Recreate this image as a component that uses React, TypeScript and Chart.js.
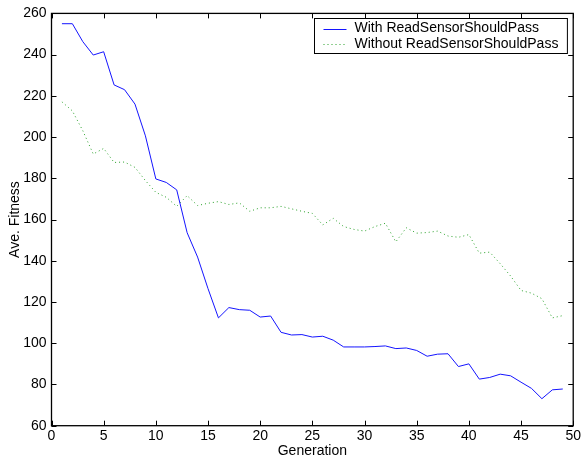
import React, { useEffect, useRef } from "react";
import { Chart, registerables } from "chart.js";

Chart.register(...registerables);

const generations = [
  1, 2, 3, 4, 5, 6, 7, 8, 9, 10, 11, 12, 13, 14, 15, 16, 17, 18, 19, 20, 21, 22, 23, 24, 25,
  26, 27, 28, 29, 30, 31, 32, 33, 34, 35, 36, 37, 38, 39, 40, 41, 42, 43, 44, 45, 46, 47, 48, 49,
];

const withPass = [
  255, 255, 246.3, 239.8, 241.4, 225.3, 223, 216, 200.6, 179.7, 178, 174.4, 153.6, 141.8, 126.5,
  112.3, 117.3, 116.3, 116, 112.7, 113.2, 105.3, 104, 104.2, 103, 103.4, 101.5, 98.2, 98.2, 98.2,
  98.4, 98.7, 97.4, 97.7, 96.5, 93.7, 94.7, 94.9, 88.7, 90, 82.6, 83.4, 85, 84.2, 81.1, 78.1,
  73.1, 77.4, 77.8,
];

const withoutPass = [
  217.1, 212.7, 203.1, 191.8, 194.5, 187.7, 187.9, 185.3, 178.9, 173.2, 170.8, 166.4, 171.6,
  166.8, 167.9, 168.7, 167.3, 168.1, 164, 165.7, 165.7, 166.4, 165.2, 164, 163, 157.4, 160.6,
  156.6, 155.2, 154.4, 156.6, 158.2, 149.2, 156, 153.4, 153.7, 154.4, 152, 151.4, 152.7, 143.7,
  144.2, 138.6, 132.6, 125.6, 124.3, 121.6, 112.3, 113.4,
];

const xTicks = [0, 5, 10, 15, 20, 25, 30, 35, 40, 45, 50];
const yTicks = [60, 80, 100, 120, 140, 160, 180, 200, 220, 240, 260];
const seriesLabels = ["With ReadSensorShouldPass", "Without ReadSensorShouldPass"];
const axisTitles = ["Generation", "Ave. Fitness"];

const FONT = "Liberation Sans, Arial, Helvetica, sans-serif";
const FS = 14;
const BLUE = "rgb(20,20,255)";
const GREEN = "rgb(40,160,40)";
const GREEN_DASH = [1, 3];

const framePlugin = {
  id: "frameAndLegend",
  afterDraw(chart: any) {
    const { ctx, chartArea } = chart;
    const { left, right, top, bottom } = chartArea;
    const xs = chart.scales.x;
    const ys = chart.scales.y;
    const tl = 5;
    ctx.save();
    ctx.strokeStyle = "#000";
    ctx.lineWidth = 1;
    ctx.setLineDash([]);
    ctx.beginPath();
    for (const v of xTicks) {
      const px = Math.round(xs.getPixelForValue(v)) + 0.5;
      ctx.moveTo(px, bottom);
      ctx.lineTo(px, bottom - tl);
      ctx.moveTo(px, top);
      ctx.lineTo(px, top + tl);
    }
    for (const v of yTicks) {
      const py = Math.round(ys.getPixelForValue(v)) + 0.5;
      ctx.moveTo(left, py);
      ctx.lineTo(left + tl, py);
      ctx.moveTo(right, py);
      ctx.lineTo(right - tl, py);
    }
    ctx.stroke();
    ctx.lineWidth = 1.3;
    ctx.strokeRect(left, top, right - left, bottom - top);

    // legend
    ctx.font = FS + "px " + FONT;
    const labels = chart.data.datasets.map((d: any) => d.label);
    const tw = Math.max(...labels.map((l: string) => ctx.measureText(l).width));
    const boxW = 40 + tw + 9;
    const boxH = 35;
    const bx = Math.round(right - 6 - boxW) + 0.5;
    const by = Math.round(top + 5) + 0.5;
    ctx.fillStyle = "#fff";
    ctx.fillRect(bx, by, boxW, boxH);
    ctx.lineWidth = 1;
    ctx.strokeStyle = "#000";
    ctx.strokeRect(bx, by, boxW, boxH);
    chart.data.datasets.forEach((d: any, i: number) => {
      const cy = by + 10 + i * 15.6;
      ctx.save();
      ctx.strokeStyle = d.borderColor;
      ctx.lineWidth = d.borderWidth;
      ctx.setLineDash(d.borderDash || []);
      ctx.beginPath();
      ctx.moveTo(bx + 9, Math.round(cy) + 0.5);
      ctx.lineTo(bx + 32, Math.round(cy) + 0.5);
      ctx.stroke();
      ctx.restore();
      ctx.fillStyle = "#000";
      ctx.textBaseline = "middle";
      ctx.textAlign = "left";
      ctx.fillText(d.label, bx + 40, cy);
    });
    ctx.restore();
  },
};

export default function App() {
  const ref = useRef<HTMLCanvasElement | null>(null);
  useEffect(() => {
    if (!ref.current) return;
    const chart = new Chart(ref.current, {
      type: "line",
      data: {
        datasets: [
          {
            label: seriesLabels[0],
            data: generations.map((g, i) => ({ x: g, y: withPass[i] })),
            borderColor: BLUE,
            borderWidth: 1,
            pointRadius: 0,
            tension: 0,
            fill: false,
          },
          {
            label: seriesLabels[1],
            data: generations.map((g, i) => ({ x: g, y: withoutPass[i] })),
            borderColor: GREEN,
            borderWidth: 1,
            borderDash: GREEN_DASH,
            pointRadius: 0,
            tension: 0,
            fill: false,
          },
        ],
      },
      options: {
        responsive: false,
        animation: false,
        events: [],
        layout: { autoPadding: false, padding: { left: 0, right: 7.5, top: 12.3, bottom: 0 } },
        plugins: { legend: { display: false }, tooltip: { enabled: false }, title: { display: false } },
        scales: {
          x: {
            type: "linear",
            min: 0,
            max: 50,
            afterBuildTicks: (s: any) => {
              s.ticks = xTicks.map((v) => ({ value: v }));
            },
            afterFit: (s: any) => {
              s.height = 34.3;
            },
            grid: { display: false, drawTicks: false },
            border: { display: false },
            ticks: { color: "#000", font: { family: FONT, size: FS }, padding: 2, maxRotation: 0, autoSkip: false },
            title: {
              display: true,
              text: axisTitles[0],
              color: "#000",
              font: { family: FONT, size: FS },
              padding: { top: 0, bottom: 0 },
            },
          },
          y: {
            type: "linear",
            min: 60,
            max: 260,
            afterBuildTicks: (s: any) => {
              s.ticks = yTicks.map((v) => ({ value: v }));
            },
            afterFit: (s: any) => {
              s.width = 51.5;
            },
            grid: { display: false, drawTicks: false },
            border: { display: false },
            ticks: { color: "#000", font: { family: FONT, size: FS }, padding: 5, autoSkip: false },
            title: {
              display: true,
              text: axisTitles[1],
              color: "#000",
              font: { family: FONT, size: FS },
              padding: { top: 7, bottom: 0 },
            },
          },
        },
      },
      plugins: [framePlugin],
    });
    return () => chart.destroy();
  }, []);
  return (
    <div style={{ position: "fixed", left: 0, top: 0, width: 583, height: 460, background: "#fff" }}>
      <canvas ref={ref} width={583} height={460} style={{ display: "block", width: 583, height: 460 }} />
    </div>
  );
}
